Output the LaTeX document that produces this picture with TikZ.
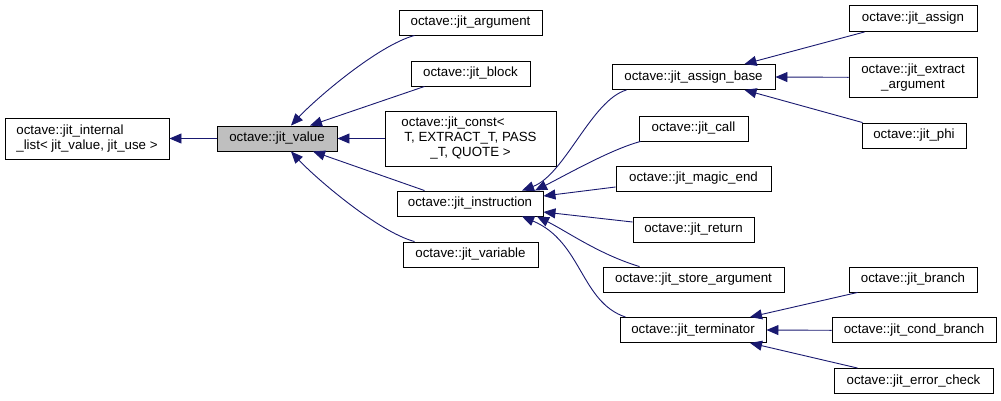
\documentclass[tikz,border=0pt]{standalone}
\usepackage{fontspec}
\setmainfont{Liberation Sans}
\usetikzlibrary{arrows.meta,calc}
\definecolor{edgeblue}{HTML}{191970}
\definecolor{fillgray}{HTML}{BFBFBF}
\begin{document}
\begin{tikzpicture}[x=1pt,y=-1pt,
  box/.style={draw=black,line width=0.9pt,inner sep=0pt,minimum height=25pt,
    font=\fontsize{13.3}{14.7}\selectfont},
  edge/.style={draw=edgeblue,line width=0.9pt,
    -{Triangle[length=12pt,width=10pt]}}]
\useasboundingbox (0,0) rectangle (1001,400);
% column 1-2
\node[box,minimum width=164pt,minimum height=41pt,align=left] (internal) at (87,138.5)
  {octave::jit\_internal\\\_list< jit\_value, jit\_use >};
\node[box,fill=fillgray,minimum width=120pt] (value) at (277,138.5) {octave::jit\_value};
% column 3
\node[box,minimum width=143pt] (arg) at (470.5,22.5) {octave::jit\_argument};
\node[box,minimum width=119pt] (block) at (470.5,73.5) {octave::jit\_block};
\node[box,minimum width=171pt,minimum height=55pt] (const) at (470.5,138.5)
  {\begin{tabular}{@{}c@{}}\multicolumn{1}{@{}l}{\hspace*{-3pt}octave::jit\_const<}\\ T, EXTRACT\_T, PASS\\ \_T, QUOTE >\end{tabular}};
\node[box,minimum width=146pt] (instr) at (470,203.5) {octave::jit\_instruction};
\node[box,minimum width=135pt] (var) at (470.5,254.5) {octave::jit\_variable};
% column 4
\node[box,minimum width=163pt] (ab) at (693.5,77) {octave::jit\_assign\_base};
\node[box,minimum width=109pt] (call) at (693.5,128.5) {octave::jit\_call};
\node[box,minimum width=155pt] (magic) at (693.5,178.5) {octave::jit\_magic\_end};
\node[box,minimum width=121pt] (ret) at (693.5,229.5) {octave::jit\_return};
\node[box,minimum width=181pt] (store) at (693.5,279.5) {octave::jit\_store\_argument};
\node[box,minimum width=146pt] (term) at (693,330) {octave::jit\_terminator};
% column 5
\node[box,minimum width=128pt,minimum height=26pt] (assign) at (913,18.5) {octave::jit\_assign};
\node[box,minimum width=128pt,minimum height=40pt,align=center] (extract) at (913,77.3)
  {octave::jit\_extract\\\_argument};
\node[box,minimum width=104pt] (phi) at (914,135.5) {octave::jit\_phi};
\node[box,minimum width=128pt] (branch) at (913,279.5) {octave::jit\_branch};
\node[box,minimum width=164pt] (cond) at (914,330.3) {octave::jit\_cond\_branch};
\node[box,minimum width=159pt] (err) at (913.5,381) {octave::jit\_error\_check};
% edges to jit_internal_list
\draw[edge] (value.west) -- (internal.east);
% edges to jit_value
\draw[edge] ($(arg.south west)+(16,0)$) .. controls +(-37,10) and +(24,-26) .. ($(value.north)+(14,0)$);
\draw[edge] ($(block.south west)+(14,0)$) -- ($(value.north)+(33,0)$);
\draw[edge] (const.west) -- (value.east);
\draw[edge] ($(instr.north west)+(28,0)$) -- ($(value.south)+(36,0)$);
\draw[edge] ($(var.north west)+(12,0)$) .. controls +(-37,-10) and +(24,26) .. ($(value.south)+(14,0)$);
% edges to jit_instruction
\draw[edge] ($(ab.south west)+(15,0)$) .. controls +(-35,10) and +(43,-16) .. ($(instr.north)+(52,0)$);
\draw[edge] ($(call.south west)+(2,0)$) .. controls +(-30,8) and +(30,-15) .. ($(instr.north)+(65,0)$);
\draw[edge] ($(magic.west)+(0,8.5)$) -- ($(instr.east)+(0,-7.5)$);
\draw[edge] ($(ret.west)+(0,-7.5)$) -- ($(instr.east)+(0,8.5)$);
\draw[edge] ($(store.north west)+(37,0)$) .. controls +(-40,-12) and +(30,15) .. ($(instr.south)+(67,0)$);
\draw[edge] ($(term.north west)+(6,0)$) .. controls +(-45,-15) and +(60,25) .. ($(instr.south)+(52,0)$);
% edges to jit_assign_base
\draw[edge] ($(assign.south west)+(16,0)$) -- ($(ab.north)+(51,0)$);
\draw[edge] (extract.west) -- (ab.east);
\draw[edge] ($(phi.north west)+(1,0)$) -- ($(ab.south)+(51,0)$);
% edges to jit_terminator
\draw[edge] ($(branch.south west)+(9,0)$) -- ($(term.north)+(57,0)$);
\draw[edge] (cond.west) -- (term.east);
\draw[edge] ($(err.north west)+(24,0)$) -- ($(term.south)+(57,0)$);
\end{tikzpicture}
\end{document}
